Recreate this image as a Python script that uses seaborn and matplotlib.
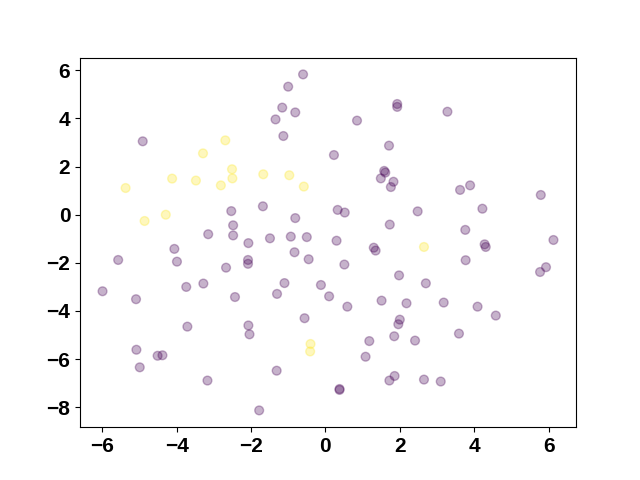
import matplotlib
matplotlib.use("Agg")
import matplotlib.pyplot as plt
import seaborn as sns
import pandas as pd

purple_x = [-0.60, -1.00, -1.16, -0.81, -1.34, -1.13, -4.91, 0.23, -2.53, -1.68,
            -0.81, -2.48, -3.15, -2.48, -1.49, -0.93, -0.50, -2.07, 1.93, 1.93,
            3.28, 0.85, 1.71, 1.58, 1.61, 1.49, 1.83, 1.76, 3.62, 3.89,
            5.79, 0.33, 0.52, 2.48, 1.73, 4.22, 3.76, 0.30, 6.13, -4.06,
            -5.57, -3.99, -2.08, -2.08, -2.67, -0.83, -0.45, -5.99, -5.09, -3.74,
            -3.28, -2.43, -1.30, -1.10, -0.12, 0.10, -3.71, -2.07, -2.04, -0.56,
            -5.08, -4.51, -4.38, -4.99, -3.17, -1.31, -1.78, 1.30, 1.35, 4.28,
            4.31, 3.77, 5.93, 5.77, 0.51, 1.98, 2.70, 0.59, 1.51, 2.18,
            3.18, 4.09, 4.58, 2.00, 1.96, 1.85, 1.18, 2.41, 3.59, 1.08,
            1.86, 1.72, 2.65, 3.10, 0.38, 0.38]
purple_y = [5.83, 5.32, 4.45, 4.25, 3.96, 3.27, 3.05, 2.48, 0.15, 0.35,
            -0.14, -0.44, -0.81, -0.86, -0.98, -0.91, -0.93, -1.18, 4.60, 4.48,
            4.28, 3.91, 2.87, 1.82, 1.75, 1.51, 1.37, 1.15, 1.03, 1.22,
            0.82, 0.20, 0.09, 0.14, -0.41, 0.25, -0.63, -1.08, -1.05, -1.42,
            -1.88, -1.95, -1.88, -2.04, -2.20, -1.56, -1.85, -3.18, -3.51, -3.00,
            -2.86, -3.42, -3.29, -2.84, -2.92, -3.39, -4.65, -4.60, -4.97, -4.30,
            -5.61, -5.86, -5.84, -6.34, -6.89, -6.48, -8.13, -1.37, -1.49, -1.23,
            -1.34, -1.89, -2.18, -2.38, -2.07, -2.52, -2.85, -3.82, -3.57, -3.68,
            -3.65, -3.82, -4.19, -4.36, -4.55, -5.05, -5.25, -5.23, -4.94, -5.90,
            -6.70, -6.89, -6.85, -6.93, -7.24, -7.28]

yellow_x = [-2.69, -3.29, -2.51, -2.50, -4.12, -3.48, -2.81, -1.67, -0.97, -0.58,
            -5.37, -4.29, -4.86, -0.40, -0.41, 2.65]
yellow_y = [3.09, 2.55, 1.89, 1.51, 1.50, 1.42, 1.22, 1.68, 1.64, 1.17,
            1.11, 0.00, -0.26, -5.37, -5.68, -1.34]

df = pd.DataFrame({
    "x": purple_x + yellow_x,
    "y": purple_y + yellow_y,
    "label": [0] * len(purple_x) + [1] * len(yellow_x),
})

fig, ax = plt.subplots(figsize=(6.4, 4.8), dpi=100)
sns.scatterplot(data=df, x="x", y="y", hue="label",
                palette=["#440154", "#fde725"], alpha=0.3, s=40,
                edgecolor="face", linewidth=1, legend=False, ax=ax)
ax.set_xlabel("")
ax.set_ylabel("")
for lbl in ax.get_xticklabels() + ax.get_yticklabels():
    lbl.set_fontsize(15)
    lbl.set_fontweight("bold")
    lbl.set_family(["Liberation Sans", "DejaVu Sans"])
fig.savefig("out.png", dpi=100)
